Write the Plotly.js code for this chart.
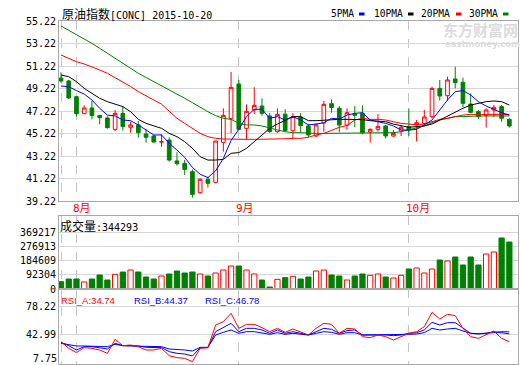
<!DOCTYPE html>
<html><head><meta charset="utf-8">
<script src="https://cdn.plot.ly/plotly-3.0.1.min.js"></script>
<style>html,body{margin:0;padding:0;background:#fff;}#chart{width:520px;height:365px;}</style>
</head><body><div id="chart"></div>
<script>
const dates = ['2015-07-30','2015-07-31',
'2015-08-03','2015-08-04','2015-08-05','2015-08-06','2015-08-07','2015-08-10','2015-08-11','2015-08-12','2015-08-13','2015-08-14',
'2015-08-17','2015-08-18','2015-08-19','2015-08-20','2015-08-21','2015-08-24','2015-08-25','2015-08-26','2015-08-27','2015-08-28','2015-08-31',
'2015-09-01','2015-09-02','2015-09-03','2015-09-04','2015-09-07','2015-09-08','2015-09-09','2015-09-10','2015-09-11','2015-09-14','2015-09-15',
'2015-09-16','2015-09-17','2015-09-18','2015-09-21','2015-09-22','2015-09-23','2015-09-24','2015-09-25','2015-09-28','2015-09-29','2015-09-30',
'2015-10-01','2015-10-02','2015-10-05','2015-10-06','2015-10-07','2015-10-08','2015-10-09','2015-10-12','2015-10-13','2015-10-14','2015-10-15',
'2015-10-16','2015-10-19','2015-10-20'];
const openP = [50.15,49.89,48.49,46.98,47.49,46.83,46.60,45.59,47.01,45.77,45.98,45.18,45.00,44.46,44.64,42.78,42.57,41.83,39.96,41.15,40.88,44.43,46.54,49.62,45.68,47.31,47.66,46.78,45.38,46.94,45.47,46.69,45.89,45.00,46.15,47.87,47.46,45.97,46.95,47.03,45.35,45.59,45.89,45.00,45.44,45.83,45.98,46.12,46.72,49.23,48.58,50.07,49.77,47.84,47.16,46.81,47.31,47.61,46.48];
const highP = [50.66,49.98,48.55,47.72,48.11,46.85,46.75,47.31,47.66,46.27,46.33,45.62,45.09,45.15,44.88,43.55,42.88,42.03,41.24,41.38,44.55,47.46,50.69,49.98,47.81,49.33,48.35,47.05,47.46,47.37,47.03,47.03,46.08,46.12,48.11,48.25,47.66,47.46,47.66,47.72,45.68,46.95,45.98,45.53,45.98,47.46,46.42,47.31,49.38,49.98,50.27,51.16,50.18,48.79,47.31,47.46,47.75,47.75,46.57];
const lowP = [49.74,48.29,46.72,46.95,46.48,46.03,45.65,45.44,45.47,45.29,44.85,44.41,44.41,44.05,42.72,42.36,41.53,39.52,39.90,40.41,40.80,43.60,45.23,45.53,44.70,46.95,46.80,45.27,45.28,45.40,44.72,45.29,44.90,44.91,45.38,47.07,45.33,45.55,45.77,45.15,44.41,45.38,44.79,44.91,45.00,45.00,44.52,45.90,46.57,48.14,48.14,49.23,47.55,47.01,46.51,45.74,46.66,46.27,45.74];
const closeP = [49.89,48.38,46.98,47.49,46.81,46.63,45.74,47.01,45.83,45.98,45.29,44.88,44.46,44.49,42.86,42.54,42.03,39.81,41.15,40.79,44.55,46.83,49.32,45.59,47.19,47.72,47.01,45.40,46.92,45.47,46.72,45.92,45.09,45.98,47.81,47.53,45.97,47.07,46.85,45.30,45.59,45.83,45.00,45.23,45.77,45.53,46.18,46.69,49.23,48.55,49.98,49.74,47.90,47.10,46.72,47.31,47.55,46.57,45.89];
const ma5 = [49.44,49.38,49.03,48.73,48.20,47.46,46.86,46.78,46.42,46.36,45.98,45.53,45.09,45.09,44.35,43.75,43.1,42.2,41.6,41.3,41.9,43.0,44.6,45.6,46.72,47.37,47.37,46.57,46.72,46.42,46.72,46.42,45.98,46.06,46.18,46.57,46.51,46.86,47.01,47.07,46.42,46.27,46.12,45.89,45.53,45.53,45.59,45.98,46.42,47.31,48.20,48.94,49.03,48.64,48.05,47.66,47.37,47.07,46.86];
const ma10 = [50.42,50.27,49.83,49.23,48.79,48.35,48.05,47.84,47.61,47.16,46.48,46.12,45.89,45.68,45.23,44.94,44.49,43.90,43.16,42.86,42.86,42.92,43.46,43.52,43.90,44.49,45.09,45.68,46.06,46.42,46.72,46.72,46.36,46.36,46.42,46.48,46.48,46.48,46.48,46.45,46.36,46.33,46.27,46.06,45.89,45.77,45.83,45.89,46.06,46.42,46.72,47.07,47.46,47.75,47.90,48.05,48.11,48.05,47.75];
const ma20 = [52.2,51.9,51.6,51.4,51.16,50.87,50.57,50.2,49.83,49.4,48.94,48.57,48.2,47.83,47.2,46.57,46.12,45.68,45.23,44.94,44.79,44.73,44.70,44.70,44.70,44.70,44.70,44.75,44.75,44.75,44.79,44.79,44.88,45.09,45.23,45.53,45.77,45.93,46.42,46.57,46.48,46.48,46.42,46.27,46.12,46.06,45.98,46.06,46.27,46.48,46.57,46.72,46.86,46.92,46.92,46.92,46.92,46.92,46.92];
const ma30 = [54.78,54.4,53.98,53.6,53.23,52.8,52.35,51.9,51.46,51.0,50.57,50.2,49.83,49.5,49.15,48.73,48.35,47.96,47.55,47.16,46.81,46.57,46.48,46.12,45.98,45.98,45.89,45.68,45.53,45.38,45.29,45.29,45.23,45.23,45.23,45.23,45.23,45.29,45.29,45.29,45.29,45.29,45.29,45.29,45.38,45.53,45.68,45.89,46.18,46.42,46.57,46.72,46.72,46.78,46.78,46.78,46.78,46.78,46.78];
const volume = [47500,64800,64800,45300,64800,90700,58300,95000,110000,123000,110000,77700,64800,84200,97200,116600,103600,110000,97200,84200,103600,123000,149000,149000,123000,97200,58300,13000,62600,73400,82000,64800,77700,116600,123000,90700,84200,58300,84200,97200,88500,97200,77700,71200,88500,129500,136000,103600,129500,187800,181400,207300,155400,207300,155400,226700,239600,330300,304400];
const rsiA = [34.89,26.79,21.53,27.60,26.79,24.77,20.72,37.73,30.03,30.84,28.82,24.77,24.77,26.79,17.88,15.45,14.64,10.59,26.79,27.60,55.14,59.19,69.32,51.09,55.95,55.95,51.9,47.04,51.09,46.23,50.28,46.23,42.99,51.09,57.17,55.95,45.02,51.09,50.28,40.97,39.75,42.99,40.97,36.92,40.97,45.02,47.04,53.12,70.53,62.43,68.10,66.48,51.09,40.97,38.94,42.99,47.85,38.94,34.74];
const rsiB = [34.08,30.03,24.77,28.82,28.82,27.6,25.98,32.87,30.03,30.03,29.63,28.0,27.6,27.6,22.74,20.72,19.91,17.48,27.6,27.6,47.04,51.9,57.17,47.04,51.09,51.09,49.07,45.02,49.07,45.02,47.04,45.02,42.99,47.04,51.09,49.88,45.02,48.26,49.07,42.99,42.99,43.8,42.99,42.18,42.99,45.02,45.83,49.07,58.38,55.14,57.98,57.98,51.09,45.02,44.21,45.02,47.04,45.4,44.37];
const rsiC = [32.87,30.84,29.63,29.63,29.63,29.63,28.82,31.65,30.03,29.63,29.63,28.82,28.82,28.82,25.98,25.57,24.77,23.55,28.0,28.0,42.99,46.23,49.07,45.02,47.04,47.04,45.83,43.8,45.83,43.8,45.02,44.21,42.99,45.02,47.04,46.23,43.8,45.83,45.83,42.99,42.99,43.4,42.99,42.99,42.99,43.8,44.21,45.83,51.09,49.07,50.28,51.09,47.85,45.02,44.61,45.02,45.83,47.0,46.78];
const priceTicks = [39.22,41.22,43.22,45.22,47.22,49.22,51.22,53.22,55.22];
const volTicks = [0,92304,184609,276913,369217];
const rsiTicks = [42.99,78.22];
const rsiBottomTick = 7.75;
const monthStarts = ['2015-07-30','2015-08-03','2015-09-01','2015-10-01'];
const monthLabels = ['','8月','9月','10月'];
const lastVolume = 344293;
const maNames = ['5PMA','10PMA','20PMA','30PMA'];

const RED='#ff0000', GREEN='#008000', BLUE='#0000ff', BLACK='#000000';
const W=520,H=365,L=59,R=2;
const fx = px => (px-L)/(W-L-R);
const fy = py => 1-py/H;
const TICKFONT = {family:'DejaVu Sans Mono', size:10, color:'#000'};
const CJK = "font-family:'Noto Sans CJK SC';font-size:12px";
const GRID='#d6d6d6', FRAME='#a8a8a8', VGRID='#c4c4c4';

const up = closeP.map((c,i)=>c>=openP[i]);
const traces = [
  {type:'candlestick', x:dates, open:openP, high:highP, low:lowP, close:closeP, xaxis:'x', yaxis:'y',
   increasing:{line:{color:RED,width:1}, fillcolor:'#ffffff'},
   decreasing:{line:{color:GREEN,width:1}, fillcolor:GREEN}, whiskerwidth:0, hoverinfo:'skip'},
  {type:'scatter', mode:'lines', x:dates, y:ma30, line:{color:GREEN,width:1}, xaxis:'x', yaxis:'y', hoverinfo:'skip'},
  {type:'scatter', mode:'lines', x:dates, y:ma20, line:{color:RED,width:1}, xaxis:'x', yaxis:'y', hoverinfo:'skip'},
  {type:'scatter', mode:'lines', x:dates, y:ma10, line:{color:BLACK,width:1}, xaxis:'x', yaxis:'y', hoverinfo:'skip'},
  {type:'scatter', mode:'lines', x:dates, y:ma5, line:{color:BLUE,width:1}, xaxis:'x', yaxis:'y', hoverinfo:'skip'},
  {type:'bar', x:dates, y:volume, width:0.68, xaxis:'x2', yaxis:'y2', hoverinfo:'skip',
   marker:{color:up.map(u=>u?'#ffffff':GREEN), line:{color:up.map(u=>u?RED:GREEN), width:1}}},
  {type:'scatter', mode:'lines', x:dates, y:rsiC, line:{color:BLUE,width:1}, xaxis:'x3', yaxis:'y3', hoverinfo:'skip'},
  {type:'scatter', mode:'lines', x:dates, y:rsiB, line:{color:BLUE,width:1}, xaxis:'x3', yaxis:'y3', hoverinfo:'skip'},
  {type:'scatter', mode:'lines', x:dates, y:rsiA, line:{color:RED,width:1}, xaxis:'x3', yaxis:'y3', hoverinfo:'skip'}
];

const xBase = {type:'category', range:[-0.26,59.12], autorange:false, showticklabels:false, ticks:'',
  tickvals:monthStarts, showgrid:true, gridcolor:VGRID, griddash:'dash', gridwidth:1,
  showline:true, mirror:true, linecolor:FRAME, linewidth:1, zeroline:false, fixedrange:true};
const yBase = {showgrid:true, gridcolor:GRID, gridwidth:1, showline:true, mirror:true, linecolor:FRAME,
  linewidth:1, zeroline:false, ticks:'', tickfont:TICKFONT, fixedrange:true, autorange:false};

const ann = [];
ann.push({xref:'paper',yref:'paper',x:fx(60),y:fy(14),xanchor:'left',yanchor:'middle',showarrow:false,
  text:'<span style="'+CJK+'">原油指数</span>[CONC] 2015-10-20', font:{family:'DejaVu Sans Mono',size:10,color:'#000'}});
const legX = [330, 373, 420, 468];
const markX = [359, 408, 456, 503];
const maColors = [BLUE, BLACK, RED, GREEN];
const shapes = [];
maNames.forEach((n,i)=>{
  ann.push({xref:'paper',yref:'paper',x:fx(legX[i]),y:fy(14),xanchor:'left',yanchor:'middle',showarrow:false,
    borderpad:0, text:n, font:{family:'DejaVu Sans Mono',size:9.6,color:'#000'}});
  shapes.push({type:'rect',xref:'paper',yref:'paper',x0:fx(markX[i]),x1:fx(markX[i]+5.5),y0:fy(15.5),y1:fy(12.5),
    fillcolor:maColors[i],line:{width:0}});
});
monthStarts.forEach((m,i)=>{
  if(!monthLabels[i]) return;
  ann.push({xref:'x',yref:'paper',x:dates.indexOf(m),y:fy(208.5),xanchor:'left',yanchor:'middle',xshift:-5,showarrow:false,
    text:monthLabels[i], font:{family:"DejaVu Sans Mono, 'Noto Sans CJK SC'",size:11,color:RED}});
});
ann.push({xref:'paper',yref:'paper',x:fx(58),y:fy(225.5),xanchor:'left',yanchor:'middle',showarrow:false,
  text:'<span style="'+CJK+'">成交量</span>:'+lastVolume, font:{family:'DejaVu Sans Mono',size:10,color:'#000'}});
const rsiLab = [['RSI_A',rsiA,RED,59],['RSI_B',rsiB,BLUE,132],['RSI_C',rsiC,BLUE,203]];
rsiLab.forEach(r=>{
  ann.push({xref:'paper',yref:'paper',x:fx(r[3]),y:fy(300),xanchor:'left',yanchor:'middle',showarrow:false,
    text:r[0]+':'+r[1][r[1].length-1].toFixed(2), font:{family:'Liberation Sans',size:9.5,color:r[2]}});
});
ann.push({xref:'paper',yref:'paper',x:0,y:fy(364.5),xanchor:'right',yanchor:'bottom',xshift:-1,showarrow:false,
  borderpad:0, text:rsiBottomTick.toFixed(2), font:TICKFONT});
ann.push({xref:'paper',yref:'paper',x:fx(441),y:fy(29.5),xanchor:'left',yanchor:'middle',showarrow:false,
  text:'<b>东方财富网</b>', font:{family:'Noto Sans CJK SC',size:15,color:'#dcdcdc'}});
ann.push({xref:'paper',yref:'paper',x:fx(443),y:fy(43.5),xanchor:'left',yanchor:'middle',showarrow:false,
  text:'<b>eastmoney.com</b>', font:{family:'DejaVu Sans',size:8.5,color:'#dcdcdc'}});

const layout = {
  width:W, height:H, margin:{l:L,r:R,t:0,b:0}, paper_bgcolor:'#fff', plot_bgcolor:'#fff',
  showlegend:false, boxgap:0.32, bargap:0.3, hovermode:false,
  xaxis: Object.assign({}, xBase, {anchor:'y', rangeslider:{visible:false}}),
  xaxis2: Object.assign({}, xBase, {anchor:'y2', matches:'x'}),
  xaxis3: Object.assign({}, xBase, {anchor:'y3', matches:'x'}),
  yaxis: Object.assign({}, yBase, {domain:[fy(201),fy(21)], range:[39.22,55.22], tickvals:priceTicks,
    ticktext:priceTicks.map(v=>v.toFixed(2)), anchor:'x'}),
  yaxis2: Object.assign({}, yBase, {domain:[fy(289),fy(216)], range:[0,472850], tickvals:volTicks,
    ticktext:volTicks.map(String), anchor:'x2'}),
  yaxis3: Object.assign({}, yBase, {domain:[fy(364),fy(289)], range:[7.75,98.87], tickvals:rsiTicks,
    ticktext:rsiTicks.map(v=>v.toFixed(2)), anchor:'x3'}),
  annotations: ann, shapes: shapes
};
Plotly.newPlot('chart', traces, layout, {staticPlot:true, displayModeBar:false});
</script></body></html>
